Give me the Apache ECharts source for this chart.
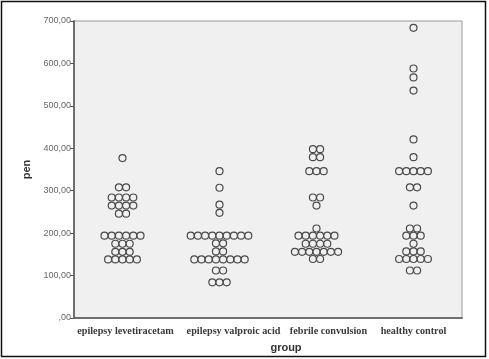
<!DOCTYPE html>
<html>
<head>
<meta charset="utf-8">
<script src="https://cdn.jsdelivr.net/npm/echarts@6/dist/echarts.min.js"></script>
<style>html,body{margin:0;padding:0;background:#fff;}#c{width:489px;height:359px;}</style>
</head>
<body>
<div id="c"></div>
<script>
// Categories
var categories = ['epilepsy levetiracetam', 'epilepsy valproic acid', 'febrile convulsion', 'healthy control'];
// Row values (pen) and number of stacked dots in each row, per group
var levValues = [377, 308, 284, 265, 246, 194, 175, 156, 138];
var levCounts = [1, 2, 4, 4, 2, 6, 3, 3, 5];
var valValues = [346, 307, 267, 248, 194, 176, 157, 138, 112, 84];
var valCounts = [1, 1, 1, 1, 9, 2, 2, 8, 2, 3];
var febValues = [398, 379, 346, 284, 265, 211, 194, 175, 156, 139];
var febCounts = [2, 2, 3, 2, 1, 1, 6, 4, 7, 2];
var hcValues = [684, 588, 567, 536, 421, 379, 346, 308, 265, 211, 194, 175, 157, 139, 112];
var hcCounts = [1, 1, 1, 1, 1, 1, 5, 2, 1, 2, 3, 1, 3, 5, 2];
// Y axis ticks
var yTicks = [0, 100, 200, 300, 400, 500, 600, 700];

var groups = [[levValues, levCounts], [valValues, valCounts], [febValues, febCounts], [hcValues, hcCounts]];
var DOT_STEP = 7.2;
var points = [];
groups.forEach(function (g, gi) {
  g[0].forEach(function (v, ri) {
    var n = g[1][ri];
    for (var i = 0; i < n; i++) {
      points.push({
        value: [categories[gi], v],
        symbolOffset: [(i - (n - 1) / 2) * DOT_STEP, 0]
      });
    }
  });
});

// label nudges (px, rightwards) as in the original's label placement
var labelShift = [6, 28, 24, 0];
var catData = categories.map(function (c, i) {
  return {value: c, textStyle: {padding: [0, 0, 0, labelShift[i]]}};
});

var chart = echarts.init(document.getElementById('c'), null, {renderer: 'canvas'});
chart.setOption({
  animation: false,
  backgroundColor: '#fff',
  grid: {
    left: 74, right: 27, top: 21, bottom: 41,
    show: true, backgroundColor: '#f0f0f0', borderColor: '#9a9a9a', borderWidth: 1
  },
  xAxis: {
    type: 'category',
    data: catData,
    name: 'group',
    nameLocation: 'middle',
    nameGap: 24,
    nameTextStyle: {fontFamily: 'Liberation Sans', fontWeight: 'bold', fontSize: 11, color: '#333', padding: [0, 0, 0, 36]},
    axisLine: {lineStyle: {color: '#6e6e6e', width: 2}},
    axisTick: {alignWithLabel: true, length: 4, lineStyle: {color: '#555'}},
    axisLabel: {fontFamily: 'Liberation Serif', fontWeight: 'bold', fontSize: 10.2, color: '#3a3a3a', margin: 8, interval: 0}
  },
  yAxis: {
    type: 'value',
    min: yTicks[0], max: yTicks[yTicks.length - 1], interval: 100,
    name: 'pen',
    nameLocation: 'middle',
    nameGap: 35,
    nameTextStyle: {fontFamily: 'Liberation Sans', fontWeight: 'bold', fontSize: 11, color: '#333'},
    axisLine: {show: true, lineStyle: {color: '#6e6e6e', width: 2}},
    axisTick: {show: true, length: 4, lineStyle: {color: '#555'}},
    splitLine: {show: false},
    axisLabel: {
      fontFamily: 'Liberation Sans', fontSize: 9, color: '#666', margin: 3,
      formatter: function (v) { return v === 0 ? ',00' : v + ',00'; }
    }
  },
  series: [{
    type: 'scatter',
    symbol: 'circle',
    symbolSize: 7,
    itemStyle: {color: '#f0f0f0', borderColor: '#4a4a4a', borderWidth: 1.2, opacity: 1},
    data: points
  }],
  graphic: [{
    type: 'rect',
    shape: {x: 1.5, y: 1.5, width: 484, height: 355},
    style: {fill: 'none', stroke: '#111', lineWidth: 1.5},
    silent: true
  }]
});
</script>
</body>
</html>
